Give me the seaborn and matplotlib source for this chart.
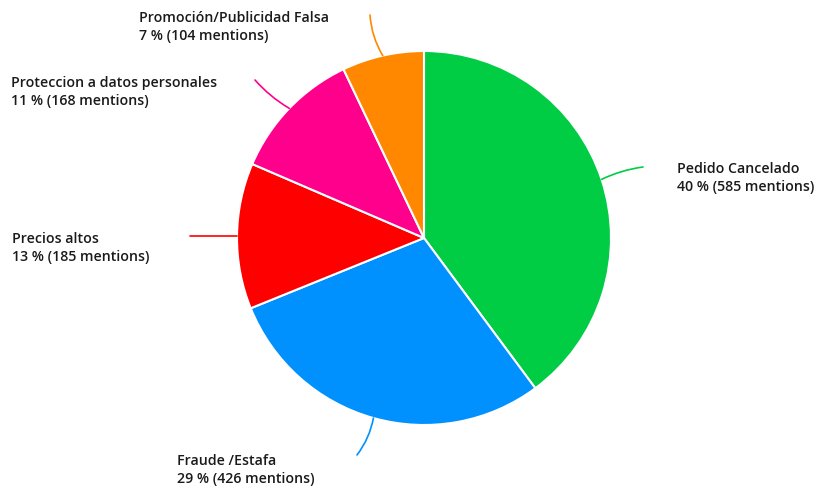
import numpy as np
import matplotlib
matplotlib.use("Agg")
import matplotlib.pyplot as plt
import seaborn as sns

categories = ["Pedido Cancelado", "Fraude /Estafa", "Precios altos",
              "Proteccion a datos personales", "Promoción/Publicidad Falsa"]
mentions = [585, 426, 185, 168, 104]
percent_labels = ["40 %", "29 %", "13 %", "11 %", "7 %"]
colors = ["#00CC44", "#0091FF", "#FF0000", "#FF008C", "#FF8800"]

# label anchor (left edge, vertical centre of the two lines) and leader-line end, in pixels
label_pos = [(677, 178), (177, 470), (12, 248), (11, 92), (139, 27)]
leader_end = [(643, 167), (357, 455), (190, 236), (255, 80), (370, 15)]
leader_bend = [0.08, 0.12, 0.0, 0.08, 0.12]

W, H = 827, 493
sns.set_theme(style="white")
plt.rcParams["font.family"] = ["Open Sans", "DejaVu Sans"]

fig = plt.figure(figsize=(W / 100, H / 100), dpi=100)
ax = fig.add_axes([0, 0, 1, 1])

cx, cy, r = 424, H - 238, 187
wedges, _ = ax.pie(mentions, colors=colors, startangle=90, counterclock=False,
                   center=(cx, cy), radius=r, frame=True,
                   wedgeprops=dict(edgecolor="white", linewidth=1.5))
ax.set_xlim(0, W)
ax.set_ylim(0, H)
ax.set_aspect("equal")
ax.axis("off")

for w, cat, n, pct, (lx, ly), (ex, ey), bend, col in zip(
        wedges, categories, mentions, percent_labels, label_pos, leader_end,
        leader_bend, colors):
    mid = np.deg2rad((w.theta1 + w.theta2) / 2)
    sx, sy = cx + r * np.cos(mid), cy + r * np.sin(mid)
    ax.annotate("", xy=(sx, sy), xytext=(ex, H - ey),
                arrowprops=dict(arrowstyle="-", color=col, lw=1.2,
                                shrinkA=0, shrinkB=0,
                                connectionstyle=f"arc3,rad={bend}"))
    ax.text(lx, H - ly, f"{cat}\n{pct} ({n} mentions)", ha="left", va="center",
            fontsize=10.2, fontweight="semibold", color="#1a1a1a", linespacing=1.3)

fig.savefig("out.png", dpi=100, facecolor="white")
